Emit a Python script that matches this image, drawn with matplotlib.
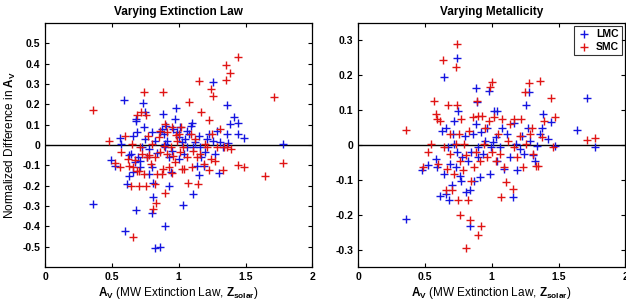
import numpy as np
import matplotlib
matplotlib.use("Agg")
import matplotlib.pyplot as plt

plt.rcParams["font.family"] = ["Liberation Sans", "DejaVu Sans"]
plt.rcParams["font.weight"] = "bold"
plt.rcParams["axes.unicode_minus"] = False
plt.rcParams["mathtext.fontset"] = "custom"
plt.rcParams["mathtext.rm"] = "Liberation Sans:bold"
plt.rcParams["mathtext.it"] = "Liberation Sans:bold"
plt.rcParams["mathtext.bf"] = "Liberation Sans:bold"
plt.rcParams["mathtext.default"] = "rm"

# -------------------------------
# Left panel: varying extinction law
# -------------------------------
ext_lmc_x = [0.36, 0.49, 0.52, 0.56, 0.57, 0.59, 0.61, 0.63, 0.60, 0.64, 0.66, 0.66,
             0.68, 0.68, 0.68, 0.69, 0.695, 0.71, 0.725, 0.73, 0.745, 0.74, 0.75, 0.76,
             0.775, 0.80, 0.80, 0.81, 0.81, 0.825, 0.82, 0.86, 0.86, 0.875, 0.88, 0.89,
             0.895, 0.90, 0.905, 0.91, 0.925, 0.93, 0.94, 0.96, 0.975, 0.98, 0.99, 1.0,
             1.01, 1.025, 1.03, 1.04, 1.05, 1.06, 1.075, 1.09, 1.10, 1.11, 1.12, 1.14,
             1.15, 1.155, 1.16, 1.19, 1.20, 1.21, 1.23, 1.26, 1.26, 1.275, 1.29, 1.30,
             1.31, 1.33, 1.36, 1.36, 1.37, 1.38, 1.41, 1.445, 1.445, 1.49, 1.78,
             1.11, 1.17, 0.84, 0.90, 0.95, 0.80, 0.71, 0.775, 0.625, 0.675, 1.00, 1.06]
ext_lmc_y = [-0.29, -0.074, -0.105, 0.034, 0.005, 0.221, -0.192, -0.154, -0.421, -0.044, 0.046, -0.134,
             0.128, 0.12, -0.318, 0.066, -0.06, -0.11, -0.01, 0.205, 0.161, 0.09, 0.03, -0.06,
             -0.143, -0.334, 0.062, -0.258, -0.187, 0.021, -0.508, -0.503, 0.062, 0.079, 0.152, 0.054,
             -0.40, -0.011, 0.095, 0.021, -0.20, -0.061, -0.134, 0.079, 0.128, 0.182, 0.062, 0.038,
             0.087, 0.013, -0.295, -0.044, 0.03, -0.011, 0.054, 0.095, 0.11, -0.241, 0.013, -0.102,
             0.046, -0.146, -0.011, -0.105, -0.036, 0.03, 0.054, 0.308, 0.021, -0.044, 0.07, -0.139,
             0.013, -0.011, 0.198, 0.054, 0.008, 0.103, 0.139, 0.107, 0.054, 0.034, 0.005,
             -0.01, -0.06, -0.04, 0.005, -0.03, -0.11, -0.08, -0.02, -0.05, -0.085, -0.07, 0.07]

ext_smc_x = [0.36, 0.48, 0.525, 0.56, 0.57, 0.60, 0.625, 0.64, 0.66, 0.65, 0.67, 0.69,
             0.69, 0.70, 0.71, 0.72, 0.725, 0.74, 0.74, 0.755, 0.757, 0.76, 0.77, 0.79,
             0.80, 0.81, 0.82, 0.825, 0.83, 0.84, 0.85, 0.86, 0.875, 0.88, 0.89, 0.895,
             0.90, 0.91, 0.91, 0.925, 0.94, 0.95, 0.96, 0.975, 0.99, 1.0, 1.01, 1.025,
             1.03, 1.04, 1.06, 1.07, 1.075, 1.09, 1.10, 1.11, 1.125, 1.14, 1.145, 1.15,
             1.16, 1.17, 1.19, 1.20, 1.21, 1.225, 1.225, 1.24, 1.24, 1.25, 1.26, 1.275,
             1.29, 1.31, 1.33, 1.34, 1.355, 1.355, 1.36, 1.38, 1.39, 1.445, 1.445, 1.49,
             1.645, 1.71, 1.78, 0.88, 0.86, 0.78, 0.70, 0.66, 0.62, 0.95, 0.98, 1.02]
ext_smc_y = [0.172, 0.018, -0.089, -0.11, -0.036, 0.046, -0.105, -0.203, -0.451, 0.005, -0.074, 0.149,
             -0.126, -0.2, -0.011, 0.164, -0.044, 0.259, -0.143, 0.149, -0.2, -0.06, 0.046, -0.093,
             0.005, -0.315, -0.192, -0.06, -0.285, -0.143, 0.038, -0.036, -0.143, 0.259, -0.003, -0.238,
             0.103, -0.044, 0.062, -0.11, -0.011, 0.087, -0.052, -0.085, 0.021, 0.054, -0.036, -0.118,
             -0.011, -0.118, -0.06, -0.187, 0.213, 0.054, -0.11, -0.028, 0.03, -0.06, -0.192, 0.316,
             -0.044, 0.164, -0.093, 0.005, -0.011, 0.123, -0.121, -0.069, 0.275, 0.054, 0.239, -0.077,
             -0.011, 0.079, -0.123, -0.011, 0.393, 0.32, -0.011, 0.354, -0.02, 0.434, -0.098, -0.11,
             -0.151, 0.234, -0.089, -0.12, 0.07, -0.05, -0.13, -0.11, -0.07, -0.14, 0.05, 0.09]

# -------------------------------
# Right panel: varying metallicity
# -------------------------------
met_lmc_x = [0.36, 0.48, 0.52, 0.58, 0.59, 0.615, 0.64, 0.64, 0.655, 0.63, 0.66, 0.67,
             0.68, 0.69, 0.70, 0.71, 0.715, 0.72, 0.73, 0.74, 0.74, 0.75, 0.76, 0.77,
             0.78, 0.80, 0.81, 0.82, 0.835, 0.84, 0.845, 0.86, 0.865, 0.88, 0.885, 0.89,
             0.90, 0.90, 0.915, 0.92, 0.935, 0.95, 0.965, 0.98, 0.99, 0.995, 1.01, 1.015,
             1.03, 1.04, 1.04, 1.06, 1.08, 1.09, 1.115, 1.135, 1.157, 1.165, 1.18, 1.19,
             1.21, 1.225, 1.24, 1.26, 1.27, 1.277, 1.29, 1.31, 1.327, 1.34, 1.36, 1.375,
             1.385, 1.42, 1.44, 1.475, 1.64, 1.71, 1.775]
met_lmc_y = [-0.211, -0.073, -0.057, -0.04, -0.064, -0.145, 0.195, -0.083, -0.14, 0.041, 0.05, -0.007,
             -0.157, -0.054, -0.116, 0.031, 0.003, 0.07, -0.064, 0.249, -0.021, 0.098, -0.088, -0.102,
             -0.035, 0.027, -0.135, -0.045, -0.233, -0.13, -0.021, 0.031, -0.102, 0.06, 0.163, 0.122,
             -0.007, -0.035, -0.092, 0.036, -0.026, 0.012, 0.05, 0.155, -0.083, -0.007, 0.008, 0.098,
             0.022, 0.098, -0.045, -0.007, 0.05, -0.069, 0.031, -0.035, -0.15, 0.062, 0.003, -0.073,
             -0.011, 0.027, -0.026, 0.114, 0.05, 0.152, 0.012, -0.03, -0.045, -0.002, 0.031, 0.05,
             0.089, 0.017, 0.065, -0.002, 0.043, 0.135, -0.005]

met_smc_x = [0.36, 0.485, 0.52, 0.545, 0.57, 0.58, 0.59, 0.60, 0.615, 0.635, 0.64, 0.655,
             0.665, 0.67, 0.685, 0.69, 0.70, 0.715, 0.73, 0.735, 0.74, 0.74, 0.75, 0.755,
             0.76, 0.765, 0.77, 0.785, 0.79, 0.805, 0.81, 0.823, 0.83, 0.84, 0.845, 0.86,
             0.865, 0.88, 0.89, 0.90, 0.90, 0.915, 0.92, 0.93, 0.94, 0.95, 0.965, 0.98,
             0.985, 1.0, 1.0, 1.02, 1.035, 1.05, 1.06, 1.072, 1.077, 1.09, 1.11, 1.12,
             1.135, 1.16, 1.165, 1.17, 1.19, 1.21, 1.22, 1.235, 1.25, 1.26, 1.277, 1.285,
             1.30, 1.31, 1.335, 1.345, 1.36, 1.375, 1.39, 1.44, 1.46, 1.475, 1.71, 1.775]
met_smc_y = [0.043, -0.064, -0.021, 0.003, 0.127, 0.089, 0.074, -0.054, 0.07, 0.243, -0.007, -0.13,
             -0.069, 0.116, -0.026, 0.031, -0.13, -0.083, 0.003, 0.225, 0.289, 0.115, -0.159, 0.031,
             -0.2, -0.045, 0.074, -0.073, 0.003, -0.297, -0.03, -0.159, 0.041, -0.214, -0.102, 0.079,
             -0.064, -0.021, 0.127, -0.257, 0.084, -0.045, -0.232, 0.084, 0.003, 0.05, -0.035, 0.07,
             0.165, 0.182, -0.021, 0.079, -0.045, 0.031, -0.026, -0.148, 0.074, -0.064, -0.107, 0.012,
             0.06, -0.126, 0.074, -0.007, -0.035, 0.027, 0.074, -0.064, 0.152, 0.003, 0.177, 0.031,
             0.05, -0.026, -0.059, -0.059, 0.184, 0.022, 0.07, 0.136, -0.007, 0.081, 0.015, 0.02]

x_ticks = [0, 0.5, 1, 1.5, 2]
x_tick_labels = ["0", "0.5", "1", "1.5", "2"]
left_yticks = [-0.5, -0.4, -0.3, -0.2, -0.1, 0, 0.1, 0.2, 0.3, 0.4, 0.5]
right_yticks = [-0.3, -0.2, -0.1, 0, 0.1, 0.2, 0.3]

lmc_color = "#1515e0"
smc_color = "#e01515"


def fmt(v):
    s = "%g" % round(v, 2)
    return s


def style_axes(ax, yticks, ylim):
    ax.set_xlim(0, 2)
    ax.set_ylim(*ylim)
    ax.set_xticks(x_ticks)
    ax.set_xticklabels(x_tick_labels)
    ax.set_yticks(yticks)
    ax.set_yticklabels([fmt(v) for v in yticks])
    ax.tick_params(direction="in", top=True, right=True, labelsize=7.5, length=3, width=0.8)
    for sp in ax.spines.values():
        sp.set_linewidth(0.9)
    ax.axhline(0, color="black", lw=1.0, zorder=1)
    ax.set_xlabel(r"$A_V$ (MW Extinction Law, $Z_{solar}$)", fontsize=8.5, labelpad=2)


fig = plt.figure(figsize=(6.26, 3.02), dpi=100)
ax1 = fig.add_axes([0.072, 0.116, 0.427, 0.808])
ax2 = fig.add_axes([0.572, 0.116, 0.427, 0.808])

ax1.plot(ext_lmc_x, ext_lmc_y, "+", color=lmc_color, ms=6, mew=1.0, label="LMC")
ax1.plot(ext_smc_x, ext_smc_y, "+", color=smc_color, ms=6, mew=1.0, label="SMC")
style_axes(ax1, left_yticks, (-0.6, 0.6))
ax1.set_title("Varying Extinction Law", fontsize=8.5, fontweight="bold", pad=6)
ax1.set_ylabel(r"Normalized Difference in $A_V$", fontsize=8.5, labelpad=3)

ax2.plot(met_lmc_x, met_lmc_y, "+", color=lmc_color, ms=6, mew=1.0, label="LMC")
ax2.plot(met_smc_x, met_smc_y, "+", color=smc_color, ms=6, mew=1.0, label="SMC")
style_axes(ax2, right_yticks, (-0.35, 0.35))
ax2.set_title("Varying Metallicity", fontsize=8.5, fontweight="bold", pad=6)
leg = ax2.legend(loc="upper right", fontsize=7.5, frameon=True, fancybox=False,
                 edgecolor="black", borderaxespad=0.3, handlelength=1.2,
                 handletextpad=0.6, borderpad=0.3, labelspacing=0.3)
leg.get_frame().set_linewidth(0.8)

plt.savefig("out.png", dpi=100)
